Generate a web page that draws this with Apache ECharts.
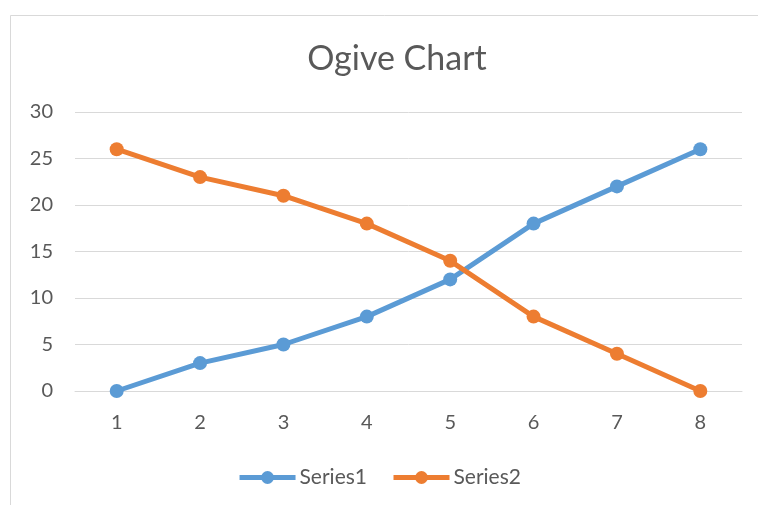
<!DOCTYPE html>
<html>
<head>
<meta charset="utf-8">
<script src="https://cdn.jsdelivr.net/npm/echarts@6/dist/echarts.min.js"></script>
<style>
  html, body { margin: 0; padding: 0; background: #fff; }
  #chart { width: 758px; height: 505px; }
</style>
</head>
<body>
<div id="chart"></div>
<script>
const categories = ['1', '2', '3', '4', '5', '6', '7', '8']
const series1 = [0, 3, 5, 8, 12, 18, 22, 26]
const series2 = [26, 23, 21, 18, 14, 8, 4, 0]

const chart = echarts.init(document.getElementById('chart'))
const textColor = '#595959'
const fontFamily = 'Lato, "Open Sans", sans-serif'

const option = {
  backgroundColor: '#fff',
  animation: false,
  graphic: [{
    type: 'rect',
    left: 8,
    top: 13,
    shape: { width: 800, height: 520 },
    style: { fill: 'none', stroke: '#d9d9d9', lineWidth: 1 },
    silent: true
  }],
  title: {
    text: 'Ogive Chart',
    left: 392,
    textAlign: 'center',
    top: 37,
    textStyle: { color: textColor, fontSize: 34, fontWeight: 'normal', fontFamily }
  },
  legend: {
    top: 462,
    left: 'center',
    itemWidth: 56,
    itemHeight: 16,
    itemGap: 24,
    lineStyle: { width: 5 },
    textStyle: { color: textColor, fontSize: 21, fontFamily, padding: [0, 0, 0, -1] },
    data: ['Series1', 'Series2']
  },
  grid: {
    left: 75,
    right: 16,
    top: 112,
    bottom: 114,
    outerBoundsMode: 'none'
  },
  xAxis: {
    type: 'category',
    data: categories,
    boundaryGap: true,
    axisLine: { show: true, lineStyle: { color: '#d9d9d9', width: 1 } },
    axisTick: { show: false },
    axisLabel: { color: textColor, fontSize: 20, margin: 22, fontFamily }
  },
  yAxis: {
    type: 'value',
    min: 0,
    max: 30,
    interval: 5,
    axisLine: { show: false },
    axisTick: { show: false },
    axisLabel: { color: textColor, fontSize: 20, margin: 22, fontFamily },
    splitLine: { lineStyle: { color: '#d9d9d9', width: 1 } }
  },
  series: [
    {
      name: 'Series1',
      type: 'line',
      data: series1,
      symbol: 'circle',
      symbolSize: 14,
      lineStyle: { color: '#5b9bd5', width: 5 },
      itemStyle: { color: '#5b9bd5' }
    },
    {
      name: 'Series2',
      type: 'line',
      data: series2,
      symbol: 'circle',
      symbolSize: 14,
      lineStyle: { color: '#ed7d31', width: 5 },
      itemStyle: { color: '#ed7d31' }
    }
  ]
}

chart.setOption(option)
</script>
</body>
</html>
